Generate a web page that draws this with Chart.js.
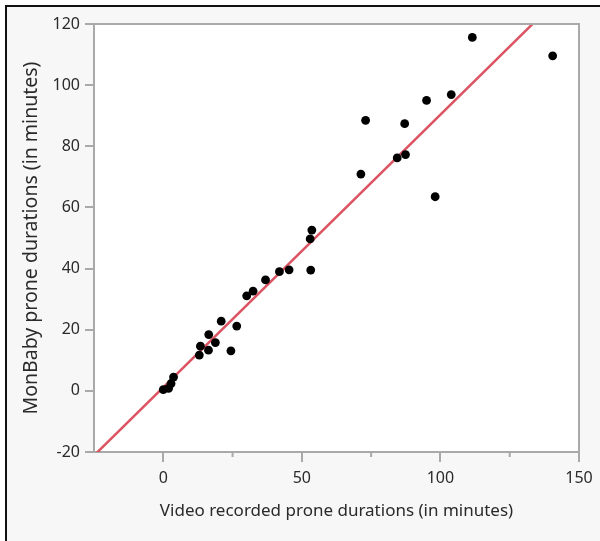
<!DOCTYPE html>
<html>
<head>
<meta charset="utf-8">
<script src="https://cdn.jsdelivr.net/npm/chart.js@4.4.1/dist/chart.umd.min.js"></script>
<style>
  html, body { margin: 0; padding: 0; background: #ffffff; }
  #frame { position: absolute; left: 5px; top: 5px; width: 595px; height: 536px;
           border-left: 2px solid #111; border-top: 2px solid #111; background: #f7f7f7; box-sizing: border-box; }
  #wrap { position: absolute; left: 0; top: 0; width: 600px; height: 541px; }
</style>
</head>
<body>
<div id="frame"></div>
<div id="wrap"><canvas id="c" width="600" height="541"></canvas></div>
<script>
// Data
const videoMinutes   = [0, 1.9, 2.8, 3.7, 13, 13.4, 16.3, 16.4, 18.8, 20.9, 24.4, 26.5, 30.1, 32.4, 36.9, 41.9, 45.4, 53.2, 53.0, 53.6, 71.3, 73, 84.4, 87.4, 87.1, 95, 98.1, 103.9, 111.5, 140.5];
const monbabyMinutes = [0.4, 0.8, 2.4, 4.5, 11.7, 14.6, 13.3, 18.4, 15.8, 22.8, 13.1, 21.2, 31.1, 32.6, 36.3, 39.0, 39.6, 39.5, 49.7, 52.6, 70.9, 88.5, 76.2, 77.3, 87.4, 95, 63.5, 96.9, 115.6, 109.6];
// fitted line end points
const fitX = [-25, 150];
const fitY = [-21.15, 134.95];
// tick labels
const xTicks = [0, 50, 100, 150];
const xMinorTicks = [25, 75, 125];
const yTicks = [-20, 0, 20, 40, 60, 80, 100, 120];

const points = videoMinutes.map((v, i) => ({x: v, y: monbabyMinutes[i]}));
const fitLine = fitX.map((v, i) => ({x: v, y: fitY[i]}));

const AXIS = '#a9a9a9';
const TEXT = '#2a2a2a';

const plotPlugin = {
  id: 'plotDecor',
  beforeDraw(chart) {
    const {ctx, chartArea: a} = chart;
    ctx.save();
    ctx.fillStyle = '#ffffff';
    ctx.fillRect(a.left, a.top, a.right - a.left, a.bottom - a.top);
    ctx.restore();
  },
  afterDraw(chart) {
    const {ctx, chartArea: a} = chart;
    const xs = chart.scales.x;
    ctx.save();
    ctx.strokeStyle = AXIS;
    ctx.lineWidth = 2;
    ctx.beginPath();
    ctx.moveTo(a.left - 1, a.top);
    ctx.lineTo(a.right, a.top);
    ctx.lineTo(a.right, a.bottom);
    ctx.stroke();
    ctx.beginPath();
    xMinorTicks.forEach(v => {
      const px = xs.getPixelForValue(v);
      ctx.moveTo(px, a.bottom);
      ctx.lineTo(px, a.bottom + 5);
    });
    ctx.stroke();
    ctx.restore();
  }
};

new Chart(document.getElementById('c'), {
  type: 'scatter',
  data: {
    datasets: [
      {
        data: points,
        backgroundColor: '#000000',
        borderWidth: 0,
        pointRadius: 4.4,
        pointHoverRadius: 4.4
      },
      {
        type: 'line',
        data: fitLine,
        borderColor: '#dc5361',
        borderWidth: 2.5,
        pointRadius: 0,
        fill: false,
        tension: 0
      }
    ]
  },
  options: {
    responsive: false,
    animation: false,
    events: [],
    layout: { padding: { left: 0, top: 24, right: 21, bottom: 0 } },
    plugins: { legend: { display: false }, tooltip: { enabled: false } },
    scales: {
      x: {
        type: 'linear',
        min: -25, max: 150,
        afterBuildTicks(s) { s.ticks = xTicks.map(v => ({value: v})); },
        afterFit(s) { s.height = 89; },
        grid: { drawOnChartArea: false, drawTicks: true, tickLength: 10, color: AXIS, lineWidth: 2 },
        border: { display: true, color: AXIS, width: 2 },
        ticks: { color: TEXT, font: { family: 'Noto Sans', size: 16 }, padding: 7, maxRotation: 0 },
        title: { display: true, text: 'Video recorded prone durations (in minutes)', color: TEXT,
                 font: { family: 'Noto Sans', size: 17 }, padding: { top: 0, bottom: 20 } }
      },
      y: {
        type: 'linear',
        min: -20, max: 120,
        afterBuildTicks(s) { s.ticks = yTicks.map(v => ({value: v})); },
        afterFit(s) { s.width = 94; },
        grid: { drawOnChartArea: false, drawTicks: true, tickLength: 9, color: AXIS, lineWidth: 2 },
        border: { display: true, color: AXIS, width: 2 },
        ticks: { color: TEXT, font: { family: 'Noto Sans', size: 16 }, padding: 5 },
        title: { display: true, text: 'MonBaby prone durations (in minutes)', color: TEXT,
                 font: { family: 'Noto Sans', size: 19.5 }, padding: { top: 20, bottom: 0 } }
      }
    }
  },
  plugins: [plotPlugin]
});
</script>
</body>
</html>
